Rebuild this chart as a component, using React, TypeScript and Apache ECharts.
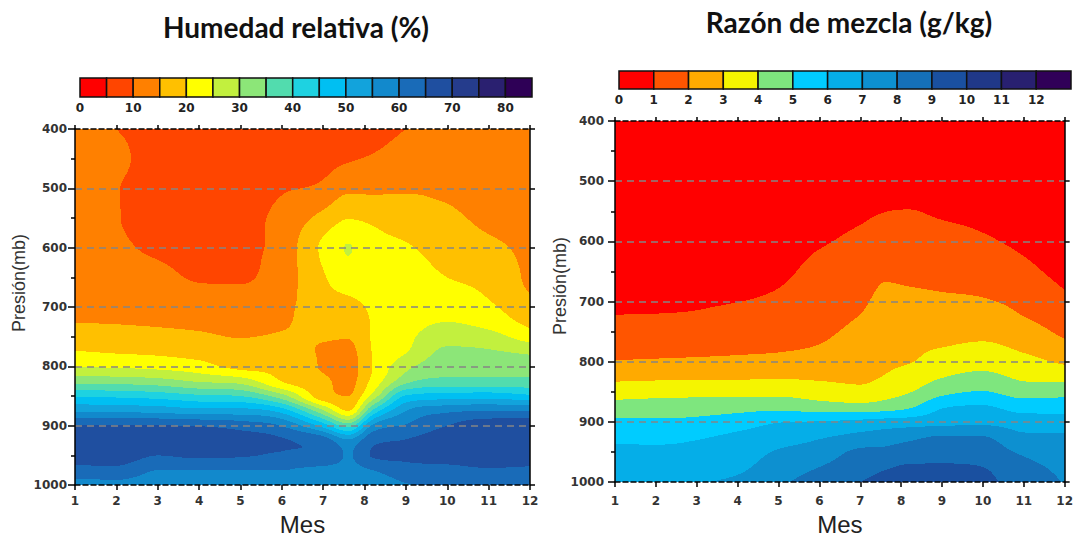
import React, { useEffect, useRef } from "react";
import * as echarts from "echarts";

// ---------- data ----------
const MONTHS = [1, 2, 3, 4, 5, 6, 7, 7.6, 8.2, 9, 10, 11, 12];
const PRESSURES = [400, 450, 500, 550, 600, 650, 700, 725, 750, 775, 800, 825, 850, 875, 900, 925, 950, 975, 1000];

// Relative humidity (%) rows = pressure levels, columns = MONTHS
const RH = [
  [13, 10, 8, 7, 7, 7, 7, 7, 8, 10, 11.5, 12, 12.5],
  [13, 11.5, 7, 6, 6.5, 7.5, 8.5, 9.5, 10.5, 12, 12.5, 12.5, 12.5],
  [13, 10.3, 7, 6, 7, 9.5, 11, 14, 14, 14.5, 14, 13, 13],
  [13, 10.3, 7.5, 6.5, 8, 11.5, 16.5, 19.8, 19, 17.5, 16, 14, 13.5],
  [13, 11, 9, 7.5, 8.5, 12, 21, 25.2, 22, 20.5, 18, 16, 14],
  [13, 12, 11.5, 9.5, 9.5, 12.5, 19.5, 23, 23, 22, 20, 18.5, 14],
  [14, 13.5, 13, 12.5, 12, 13.5, 18, 18, 21, 22.5, 22.5, 20.8, 16.5],
  [14.9, 14.7, 14.3, 13.8, 13, 14.3, 17, 16, 20.5, 23, 25, 23, 18.5],
  [17.5, 17, 16.5, 15.8, 14.8, 15.5, 15.5, 15.2, 20.5, 23.8, 28, 27, 22.5],
  [20.2, 19.5, 19, 18, 17, 17, 14.5, 13.5, 20.3, 24.7, 31, 30.5, 29],
  [24.8, 24.3, 23.5, 22, 18.5, 18.5, 14.5, 13, 20.2, 28.5, 33, 33, 33],
  [33.3, 33, 32, 29.5, 28, 19.9, 16, 13.5, 21.5, 33.5, 36.5, 36.5, 36.5],
  [44.5, 44, 43, 41, 40, 32, 17, 15, 27, 45.5, 47.5, 48, 46],
  [54.5, 54, 53.5, 52, 52, 48, 31, 20, 41, 55, 59, 60, 60],
  [65.5, 65.3, 65.2, 64.8, 63, 59.8, 48, 38, 56, 60.5, 65, 68, 68],
  [68, 68, 67.5, 67.5, 67, 65.3, 63, 56, 64, 65.2, 67.5, 69, 69],
  [67, 67.5, 65, 66, 65.5, 64.5, 64.8, 59.5, 65.3, 65.8, 67, 68, 68],
  [63.5, 63.5, 60, 60, 60, 60, 58, 58.5, 60, 63, 63.5, 64.5, 64],
  [57, 58, 57, 57, 57.5, 57.5, 56, 58, 57, 59.5, 61, 62, 62],
];

// Mixing ratio (g/kg)
const MR = [
  [0.3, 0.3, 0.3, 0.35, 0.35, 0.4, 0.4, 0.4, 0.4, 0.4, 0.35, 0.3, 0.25],
  [0.35, 0.35, 0.35, 0.4, 0.4, 0.45, 0.5, 0.55, 0.55, 0.55, 0.45, 0.4, 0.3],
  [0.4, 0.4, 0.45, 0.5, 0.5, 0.55, 0.65, 0.75, 0.75, 0.7, 0.6, 0.5, 0.4],
  [0.5, 0.5, 0.55, 0.6, 0.6, 0.7, 0.85, 0.99, 1.02, 0.9, 0.8, 0.65, 0.5],
  [0.6, 0.6, 0.65, 0.7, 0.7, 0.92, 1.2, 1.45, 1.4, 1.3, 1.1, 0.85, 0.6],
  [0.7, 0.7, 0.75, 0.8, 0.85, 1.25, 1.5, 1.88, 1.8, 1.7, 1.55, 1.2, 0.75],
  [0.85, 0.85, 0.9, 0.99, 1.15, 1.5, 1.85, 2.2, 2.2, 2.15, 2.08, 1.75, 1.2],
  [1.03, 1.05, 1.1, 1.25, 1.35, 1.65, 2.03, 2.35, 2.4, 2.4, 2.4, 2.0, 1.5],
  [1.35, 1.4, 1.45, 1.5, 1.6, 1.8, 2.25, 2.5, 2.6, 2.7, 2.75, 2.4, 1.8],
  [1.7, 1.72, 1.75, 1.8, 1.85, 2.05, 2.5, 2.65, 2.8, 2.98, 3.15, 2.8, 2.25],
  [2.05, 2.1, 2.15, 2.2, 2.3, 2.45, 2.7, 2.83, 2.95, 3.45, 3.65, 3.3, 2.85],
  [2.75, 2.8, 2.85, 2.85, 2.9, 2.85, 2.8, 3.05, 3.45, 3.95, 4.25, 3.8, 3.65],
  [3.55, 3.65, 3.7, 3.7, 3.7, 3.5, 3.3, 3.6, 3.95, 4.7, 5.05, 4.55, 4.65],
  [4.4, 4.45, 4.5, 4.6, 4.7, 4.45, 4.35, 4.5, 4.85, 5.9, 6.1, 5.6, 5.6],
  [5.2, 5.15, 5.25, 5.55, 5.95, 6.05, 6.25, 6.4, 6.5, 6.65, 6.75, 6.5, 6.45],
  [5.8, 5.7, 5.9, 6.2, 6.55, 6.9, 7.3, 7.5, 7.75, 8.1, 8.05, 7.2, 7.15],
  [6.2, 6.25, 6.3, 6.5, 7.1, 7.45, 8.2, 8.25, 8.5, 8.6, 8.5, 7.85, 7.5],
  [6.4, 6.55, 6.65, 6.8, 7.5, 8.0, 8.6, 8.9, 9.1, 9.1, 9.0, 8.3, 7.75],
  [6.6, 6.85, 6.95, 7.2, 7.85, 8.4, 9.0, 9.3, 9.35, 9.3, 9.2, 8.6, 7.95],
];

const RH_STEP = 5;
const RH_MAX = 85;
const RH_COLORS = [
  "#ff0000", "#ff4500", "#ff8000", "#ffc000", "#ffff00", "#c2f03e", "#8ce678",
  "#52dcae", "#1ed2e1", "#00bff2", "#12a3dc", "#1289cc", "#196bb8", "#1f4fa0",
  "#253c8c", "#2a2070", "#2e0056",
];
const MR_STEP = 1;
const MR_MAX = 13;
const MR_COLORS = [
  "#ff0000", "#ff5500", "#ffaa00", "#f5f500", "#7ee67e", "#00ccff", "#05aee8",
  "#0d90d0", "#1570b8", "#1a50a0", "#203888", "#282070", "#300058",
];

const TITLES = ["Humedad relativa (%)", "Razón de mezcla (g/kg)"];
const X_NAME = "Mes";
const Y_NAME = "Presión(mb)";

// ---------- rendering helpers (shape-preserving cubic between read values) ----------
function tangents(xs: number[], ys: number[]): number[] {
  const n = xs.length;
  const d: number[] = [];
  for (let k = 0; k < n - 1; k++) d.push((ys[k + 1] - ys[k]) / (xs[k + 1] - xs[k]));
  const m = new Array(n).fill(0);
  m[0] = d[0];
  m[n - 1] = d[n - 2];
  for (let k = 1; k < n - 1; k++) {
    if (d[k - 1] * d[k] <= 0) {
      m[k] = 0;
    } else {
      const h0 = xs[k] - xs[k - 1];
      const h1 = xs[k + 1] - xs[k];
      let mk = (h1 * d[k - 1] + h0 * d[k]) / (h0 + h1);
      const lim = 3 * Math.min(Math.abs(d[k - 1]), Math.abs(d[k]));
      if (Math.abs(mk) > lim) mk = Math.sign(mk) * lim;
      m[k] = mk;
    }
  }
  return m;
}

function hermite(y0: number, y1: number, m0: number, m1: number, h: number, t: number) {
  const t2 = t * t;
  const t3 = t2 * t;
  return (
    (2 * t3 - 3 * t2 + 1) * y0 +
    (t3 - 2 * t2 + t) * h * m0 +
    (-2 * t3 + 3 * t2) * y1 +
    (t3 - t2) * h * m1
  );
}

function fieldRenderer(grid: number[][], colors: string[], step: number) {
  const colTan = MONTHS.map((_, j) => tangents(PRESSURES, grid.map((r) => r[j])));
  return (params: any, api: any) => {
    const i = params.dataIndex;
    const p0 = PRESSURES[i];
    const p1 = PRESSURES[i + 1];
    const hp = p1 - p0;
    const y0 = api.coord([MONTHS[0], p0])[1];
    const y1 = api.coord([MONTHS[0], p1])[1];
    const xs = MONTHS.map((m) => api.coord([m, p0])[0]);
    const top = grid[i];
    const bot = grid[i + 1];
    const children: any[] = [];
    const yS = Math.round(y0);
    const yE = Math.round(y1);
    const xS = Math.round(xs[0]);
    const xE = Math.round(xs[xs.length - 1]);
    const push = (x: number, y: number, w: number, idx: number) => {
      if (w <= 0) return;
      children.push({
        type: "rect",
        shape: { x, y, width: w, height: 1 },
        style: { fill: colors[idx] },
        silent: true,
      });
    };
    for (let y = yS; y < yE; y++) {
      let t = (y + 0.5 - y0) / (y1 - y0);
      t = Math.max(0, Math.min(1, t));
      const row = top.map((v, j) => hermite(v, bot[j], colTan[j][i], colTan[j][i + 1], hp, t));
      const rowTan = tangents(MONTHS, row);
      let j = 0;
      let runStart = xS;
      let runIdx = -1;
      for (let x = xS; x < xE; x++) {
        const cx = x + 0.5;
        while (j < xs.length - 2 && cx > xs[j + 1]) j++;
        let u = (cx - xs[j]) / (xs[j + 1] - xs[j]);
        u = Math.max(0, Math.min(1, u));
        const v = hermite(row[j], row[j + 1], rowTan[j], rowTan[j + 1], MONTHS[j + 1] - MONTHS[j], u);
        const idx = Math.max(0, Math.min(colors.length - 1, Math.floor(v / step)));
        if (idx !== runIdx) {
          if (runIdx >= 0) push(runStart, y, x - runStart, runIdx);
          runStart = x;
          runIdx = idx;
        }
      }
      push(runStart, y, xE - runStart, runIdx);
    }
    return { type: "group", children };
  };
}

function colorbarRenderer(colors: string[]) {
  return (params: any, api: any) => {
    const a = api.coord([api.value(0), 0]);
    const b = api.coord([api.value(1), 1]);
    return {
      type: "rect",
      shape: { x: a[0], y: b[1], width: b[0] - a[0], height: a[1] - b[1] },
      style: { fill: colors[params.dataIndex], stroke: "#111", lineWidth: 1.5 },
    };
  };
}

const tickFont = {
  fontFamily: "DejaVu Sans",
  fontWeight: "bold" as const,
  fontSize: 12,
  color: "#333",
};

function plotAxes(grid: number, xMargin: number, yMargin: number, nameGap: number) {
  const xBottom = {
    gridIndex: grid,
    type: "value",
    min: 1,
    max: 12,
    interval: 1,
    position: "bottom",
    z: 10,
    axisLine: { show: true, onZero: false, lineStyle: { color: "#000", width: 1.5, type: [5, 3] } },
    axisTick: { show: true, length: 5, lineStyle: { color: "#000", width: 1.5 } },
    axisLabel: { ...tickFont, margin: xMargin, formatter: (v: number) => String(v) },
    splitLine: { show: false },
    name: X_NAME,
    nameLocation: "middle",
    nameGap,
    nameTextStyle: { fontFamily: "Liberation Sans", fontSize: 24, color: "#222" },
  };
  const xTop = {
    gridIndex: grid,
    type: "value",
    min: 1,
    max: 12,
    interval: 1,
    position: "top",
    z: 10,
    axisLine: { show: true, onZero: false, lineStyle: { color: "#000", width: 1.5, type: [5, 3] } },
    axisTick: { show: true, length: 4, lineStyle: { color: "#000", width: 1.5 } },
    axisLabel: { show: false },
    splitLine: { show: false },
  };
  const yLeft = {
    gridIndex: grid,
    type: "value",
    inverse: true,
    min: 400,
    max: 1000,
    interval: 100,
    position: "left",
    z: 10,
    axisLine: { show: true, onZero: false, lineStyle: { color: "#000", width: 1.5 } },
    axisTick: { show: true, length: 7, lineStyle: { color: "#000", width: 1.5 } },
    minorTick: { show: true, splitNumber: 2, length: 4, lineStyle: { color: "#000", width: 1.5 } },
    axisLabel: { ...tickFont, margin: yMargin, formatter: (v: number) => String(v) },
    splitLine: {
      show: true,
      showMinLine: false,
      showMaxLine: false,
      lineStyle: { color: "#858585", width: 1.5, type: [7, 5] },
    },
  };
  const yRight = {
    gridIndex: grid,
    type: "value",
    inverse: true,
    min: 400,
    max: 1000,
    interval: 100,
    position: "right",
    z: 10,
    axisLine: { show: true, onZero: false, lineStyle: { color: "#000", width: 1.5 } },
    axisTick: { show: true, length: 5, lineStyle: { color: "#000", width: 1.5 } },
    axisLabel: { show: false },
    splitLine: { show: false },
  };
  return { xBottom, xTop, yLeft, yRight };
}

function textEl(text: string, x: number, y: number, font: string, fill: string, rotation = 0) {
  return {
    type: "text",
    x,
    y,
    rotation,
    style: {
      text,
      font,
      fill,
      align: "center",
      verticalAlign: "middle",
      textAlign: "center",
      textVerticalAlign: "middle",
    },
  };
}

export default function App() {
  const ref = useRef<HTMLDivElement>(null);

  useEffect(() => {
    if (!ref.current) return;
    const chart = echarts.init(ref.current, undefined, { renderer: "svg" });

    const A = plotAxes(0, 10, 8, 23);
    const B = plotAxes(1, 13, 11, 29);

    const bandData = PRESSURES.slice(0, -1).map((p) => [MONTHS[0], p]);

    const option: any = {
      animation: false,
      backgroundColor: "#ffffff",
      grid: [
        { left: 75, top: 129, width: 455, height: 364 },
        { left: 615, top: 121, width: 452, height: 366 },
        { left: 80, top: 78, width: 452, height: 19 },
        { left: 619, top: 71, width: 452, height: 18 },
      ],
      xAxis: [
        A.xBottom,
        A.xTop,
        B.xBottom,
        B.xTop,
        {
          gridIndex: 2,
          type: "value",
          min: 0,
          max: RH_MAX,
          interval: RH_STEP,
          position: "bottom",
          axisLine: { show: false },
          axisTick: { show: false },
          splitLine: { show: false },
          axisLabel: {
            ...tickFont,
            color: "#222",
            margin: 5,
            formatter: (v: number) => (v % 10 === 0 && v < RH_MAX ? String(v) : ""),
          },
        },
        {
          gridIndex: 3,
          type: "value",
          min: 0,
          max: MR_MAX,
          interval: MR_STEP,
          position: "bottom",
          axisLine: { show: false },
          axisTick: { show: false },
          splitLine: { show: false },
          axisLabel: {
            ...tickFont,
            color: "#222",
            margin: 5,
            formatter: (v: number) => (v < MR_MAX ? String(v) : ""),
          },
        },
      ],
      yAxis: [
        A.yLeft,
        A.yRight,
        B.yLeft,
        B.yRight,
        { gridIndex: 2, type: "value", min: 0, max: 1, show: false },
        { gridIndex: 3, type: "value", min: 0, max: 1, show: false },
      ],
      series: [
        {
          type: "custom",
          xAxisIndex: 0,
          yAxisIndex: 0,
          silent: true,
          clip: true,
          data: bandData,
          renderItem: fieldRenderer(RH, RH_COLORS, RH_STEP),
        },
        {
          type: "custom",
          xAxisIndex: 2,
          yAxisIndex: 2,
          silent: true,
          clip: true,
          data: bandData,
          renderItem: fieldRenderer(MR, MR_COLORS, MR_STEP),
        },
        {
          type: "custom",
          xAxisIndex: 4,
          yAxisIndex: 4,
          silent: true,
          data: RH_COLORS.map((_, k) => [k * RH_STEP, (k + 1) * RH_STEP]),
          renderItem: colorbarRenderer(RH_COLORS),
        },
        {
          type: "custom",
          xAxisIndex: 5,
          yAxisIndex: 5,
          silent: true,
          data: MR_COLORS.map((_, k) => [k * MR_STEP, (k + 1) * MR_STEP]),
          renderItem: colorbarRenderer(MR_COLORS),
        },
      ],
      graphic: [
        textEl(TITLES[0], 296, 27, "bold 28px Lato", "#111"),
        textEl(TITLES[1], 849, 22, "bold 28px Lato", "#111"),
        textEl(Y_NAME, 19, 283, "18px 'Liberation Sans'", "#333", Math.PI / 2),
        textEl(Y_NAME, 560, 286, "18px 'Liberation Sans'", "#333", Math.PI / 2),
      ],
    };

    chart.setOption(option);
    return () => chart.dispose();
  }, []);

  return (
    <div
      ref={ref}
      style={{ position: "absolute", left: 0, top: 0, width: 1076, height: 541 }}
    />
  );
}
